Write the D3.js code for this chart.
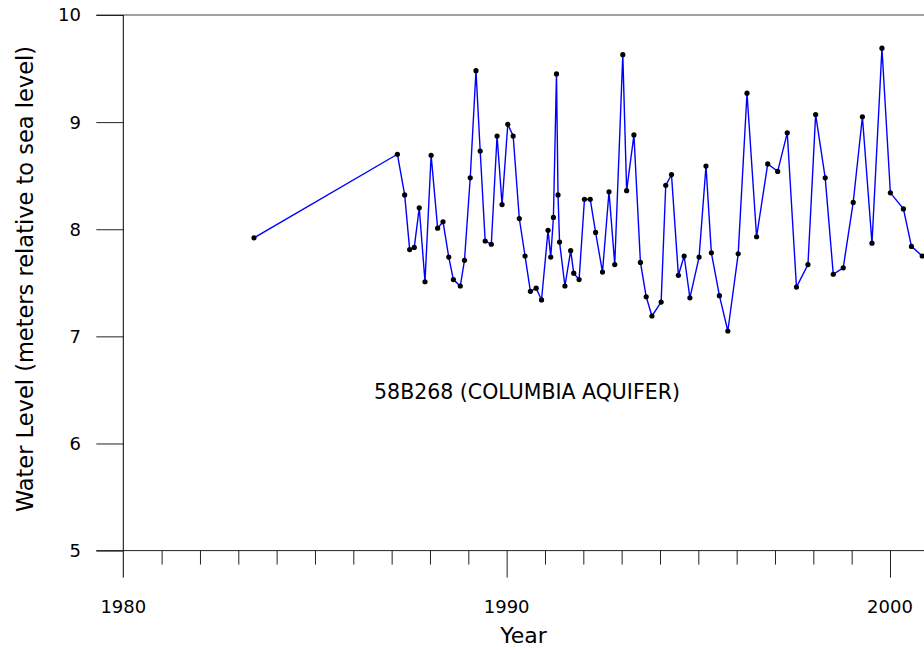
<!DOCTYPE html>
<html>
<head>
<meta charset="utf-8">
<script src="https://cdn.jsdelivr.net/npm/d3@7"></script>
<style>
  body { margin: 0; background: #fff; }
  text { font-family: "DejaVu Sans", Verdana, sans-serif; fill: #000; }
</style>
</head>
<body>
<div id="chart"></div>
<script>
// Water level readings, well 58B268 (decimal year, meters rel. to sea level)
var years = [1983.41, 1987.15, 1987.34, 1987.47, 1987.59, 1987.72, 1987.87, 1988.03, 1988.20, 1988.34,
    1988.49, 1988.61, 1988.79, 1988.90, 1989.05, 1989.20, 1989.31, 1989.44, 1989.60, 1989.75,
    1989.88, 1990.03, 1990.17, 1990.33, 1990.48, 1990.62, 1990.77, 1990.91, 1991.08, 1991.15,
    1991.22, 1991.30, 1991.34, 1991.38, 1991.52, 1991.67, 1991.75, 1991.89, 1992.03, 1992.18,
    1992.32, 1992.50, 1992.67, 1992.82, 1993.03, 1993.13, 1993.32, 1993.49, 1993.64, 1993.79,
    1994.03, 1994.15, 1994.30, 1994.48, 1994.63, 1994.78, 1995.02, 1995.20, 1995.34, 1995.55,
    1995.77, 1996.04, 1996.27, 1996.52, 1996.81, 1997.07, 1997.32, 1997.56, 1997.86, 1998.06,
    1998.31, 1998.52, 1998.78, 1999.04, 1999.28, 1999.53, 1999.79, 2000.01, 2000.35, 2000.56,
    2000.84];
var levels = [7.92, 8.70, 8.32, 7.81, 7.83, 8.20, 7.51, 8.69, 8.01, 8.07,
    7.74, 7.53, 7.47, 7.71, 8.48, 9.48, 8.73, 7.89, 7.86, 8.87,
    8.23, 8.98, 8.87, 8.10, 7.75, 7.42, 7.45, 7.34, 7.99, 7.74,
    8.11, 9.45, 8.32, 7.88, 7.47, 7.80, 7.59, 7.53, 8.28, 8.28,
    7.97, 7.60, 8.35, 7.67, 9.63, 8.36, 8.88, 7.69, 7.37, 7.19,
    7.32, 8.41, 8.51, 7.57, 7.75, 7.36, 7.74, 8.59, 7.78, 7.38,
    7.05, 7.77, 9.27, 7.93, 8.61, 8.54, 8.90, 7.46, 7.67, 9.07,
    8.48, 7.58, 7.64, 8.25, 9.05, 7.87, 9.69, 8.34, 8.19, 7.84,
    7.75];
var yTicks = [5, 6, 7, 8, 9, 10];
var xLabels = [1980, 1990, 2000];
var chartLabel = "58B268 (COLUMBIA AQUIFER)";

var W = 924, H = 650;
var plotLeft = 123.3, plotTop = 15, plotBottom = 550.6;

var x = d3.scaleLinear().domain([1980, 2000]).range([plotLeft, 890]);
var y = d3.scaleLinear().domain([5, 10]).range([plotBottom, plotTop]);

var svg = d3.select("#chart").append("svg")
    .attr("width", W).attr("height", H);

// top frame line
svg.append("line")
    .attr("x1", plotLeft - 27).attr("x2", W)
    .attr("y1", y(10)).attr("y2", y(10))
    .attr("stroke", "#444").attr("stroke-width", 1.2);

// x axis: a tick per year, long ticks at decades
var xAxis = svg.append("g")
    .attr("transform", "translate(0," + plotBottom + ")")
    .call(d3.axisBottom(x)
        .tickValues(d3.range(1981, 2003))
        .tickSize(14)
        .tickSizeOuter(0)
        .tickFormat(""));
xAxis.select(".domain").remove();
xAxis.selectAll(".tick line")
    .attr("stroke", "#222")
    .attr("y2", function(d) { return d % 10 === 0 ? 27 : 14; });

svg.append("line")
    .attr("x1", plotLeft - 27).attr("x2", W)
    .attr("y1", plotBottom).attr("y2", plotBottom)
    .attr("stroke", "#222");

svg.selectAll("xlabels")
    .data(xLabels)
    .enter()
    .append("text")
    .attr("x", function(d) { return x(d); })
    .attr("y", 613)
    .attr("text-anchor", "middle")
    .style("font-size", "18px")
    .text(function(d) { return d; });

// y axis
var yAxis = svg.append("g")
    .attr("transform", "translate(" + plotLeft + ",0)")
    .call(d3.axisLeft(y).tickValues(yTicks).tickSize(27).tickSizeOuter(0).tickFormat(""));
yAxis.select(".domain").remove();
yAxis.selectAll(".tick line").attr("stroke", "#222");

svg.append("line")
    .attr("x1", plotLeft).attr("x2", plotLeft)
    .attr("y1", plotTop).attr("y2", plotBottom + 27)
    .attr("stroke", "#000");

svg.selectAll("ylabels")
    .data(yTicks)
    .enter()
    .append("text")
    .attr("x", 81)
    .attr("y", function(d) { return y(d); })
    .attr("dy", "0.36em")
    .attr("text-anchor", "end")
    .style("font-size", "18px")
    .text(function(d) { return d; });

// axis titles
svg.append("text")
    .attr("x", 523.5)
    .attr("y", 643)
    .attr("text-anchor", "middle")
    .style("font-size", "22px")
    .text("Year");

svg.append("text")
    .attr("transform", "translate(33,279) rotate(-90)")
    .attr("text-anchor", "middle")
    .style("font-size", "22.5px")
    .text("Water Level (meters relative to sea level)");

// data
var data = years.map(function(d, i) { return { year: d, level: levels[i] }; });

var line = d3.line()
    .x(function(d) { return x(d.year); })
    .y(function(d) { return y(d.level); });

svg.append("path")
    .datum(data)
    .attr("d", line)
    .attr("fill", "none")
    .attr("stroke", "#0000ff")
    .attr("stroke-width", 1.4);

svg.selectAll("dots")
    .data(data)
    .enter()
    .append("circle")
    .attr("cx", function(d) { return x(d.year); })
    .attr("cy", function(d) { return y(d.level); })
    .attr("r", 2.6)
    .attr("fill", "#000");

svg.append("text")
    .attr("x", 527)
    .attr("y", 399)
    .attr("text-anchor", "middle")
    .style("font-size", "20.5px")
    .text(chartLabel);
</script>
</body>
</html>
